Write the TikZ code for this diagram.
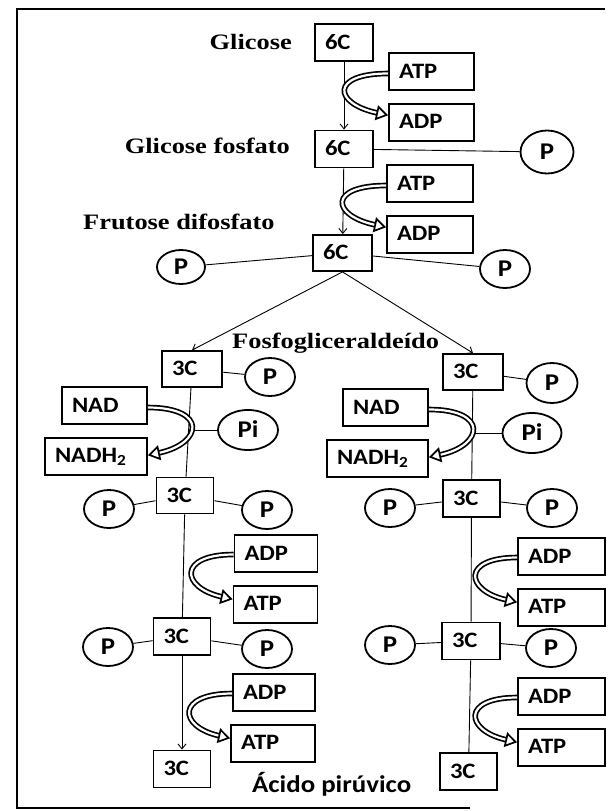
\documentclass[tikz,border=0pt]{standalone}
\usepackage{fontspec}
\usepackage{tikz}
\usetikzlibrary{arrows.meta,positioning,shapes.geometric}
\newfontfamily\boxfont{Carlito}[FakeStretch=1.12]
\newfontfamily\labfont{Liberation Serif}[FakeStretch=1.2]

\begin{document}
\begin{tikzpicture}[
    x=1pt, y=-1pt,
    node distance=12pt,
    box/.style={draw, line width=1.8pt, minimum height=37pt, inner xsep=10pt,
                inner ysep=0pt, text width=#1, text height=14pt, text depth=1pt,
                align=left, font=\boxfont\bfseries\fontsize{22}{24}\selectfont},
    pcirc/.style={draw, ellipse, line width=1.8pt, minimum width=50pt,
                  minimum height=38pt, inner sep=0pt, text height=15pt, text depth=0pt,
                  font=\boxfont\bfseries\fontsize{24}{26}\selectfont},
    lab/.style={inner sep=0pt, font=\labfont\bfseries\fontsize{22}{24}\selectfont},
    link/.style={line width=0.9pt},
    arrow/.style={link, -{Straight Barb[length=5pt, width=8pt]}},
    hollow/.style={double=white, line width=1.7pt, double distance=2.2pt,
                   -{Triangle[open, length=12pt, width=15pt]}},
]
\useasboundingbox (0,0) rectangle (611,811);

% Frame
\draw[line width=2.5pt] (605,9) -- (17,9) -- (17,808) -- (470,808);

% Glycolysis, 6C part
\node[box=38pt] (c6a) at (344,42.5) {6C};
\node[box=38pt] (c6b) at (344,149) {6C};
\node[box=39pt, minimum height=36pt] (c6c) at (342.5,253) {6C};
\node[box=65pt] (atpa) at (431.5,71.5) {ATP};
\node[box=65pt, below=of atpa] (adpa) {ADP};
\node[box=66pt] (atpb) at (430,183.5) {ATP};
\node[box=66pt, below=of atpb] (adpb) {ADP};
\node[pcirc, minimum width=53pt, minimum height=43pt] (pa) at (547,152) {P};
\node[pcirc, minimum width=48pt, minimum height=34pt] (pb) at (181,267) {P};
\node[pcirc] (pc) at (505,269) {P};

\node[lab, anchor=base east] (lglic) at (292,49) {Glicose};
\node[lab, anchor=base east] (lglicf) at (290,153) {Glicose fosfato};
\node[lab, anchor=base west] (lfrut) at (83,229) {Frutose difosfato};
\node[lab, anchor=base west] (lfosf) at (232,348) {Fosfogliceralde\'ido};
\node[inner sep=0pt, anchor=base west,
      font=\boxfont\bfseries\fontsize{24}{26}\selectfont] (lacid) at (252,792)
     {\'Acido pir\'uvico};

\draw[arrow] (c6a) -- (c6b);
\draw[arrow] (c6b) -- (c6c);
\draw[link] (c6b) -- (pa);
\draw[link] (c6c) -- (pb);
\draw[link] (c6c) -- (pc);
\draw[hollow] ([yshift=-2pt]atpa.west) .. controls +(-58,0) and +(-55,-12) .. ([yshift=7pt]adpa.west);
\draw[hollow] ([yshift=-2pt]atpb.west) .. controls +(-58,0) and +(-55,-12) .. ([yshift=7pt]adpb.west);

% Left branch
\node[box=40pt, minimum height=36pt] (c3la) at (192,369) {3C};
\node[pcirc] (pla) at (270,377) {P};
\node[box=65pt] (nadl) at (104.5,405.5) {NAD};
\node[box=82pt, below=of nadl.south east, anchor=north east] (nadhl) {NADH\textsubscript{2}};
\node[pcirc, minimum width=60pt, minimum height=40pt] (pil) at (248,430) {Pi};
\node[box=37pt, minimum height=36pt] (c3lb) at (185,495.5) {3C};
\node[pcirc] (plb1) at (109,509) {P};
\node[pcirc] (plb2) at (267,510) {P};
\node[box=63pt] (adpl1) at (276,553.5) {ADP};
\node[box=64pt, below=of adpl1.south east, anchor=north east] (atpl1) {ATP};
\node[box=37pt] (c3lc) at (182,636.5) {3C};
\node[pcirc] (plc1) at (108,647) {P};
\node[pcirc] (plc2) at (267,649) {P};
\node[box=62pt] (adpl2) at (274,692.5) {ADP};
\node[box=64pt, below=of adpl2.south east, anchor=north east] (atpl2) {ATP};
\node[box=37pt] (c3ld) at (182,769) {3C};
\coordinate (jl) at (pil -| c3la);

\draw[arrow] (c6c.south) -- (c3la.north);
\draw[link] (c3la) -- (pla);
\draw[link] (c3la) -- (c3lb);
\draw[link] (jl) -- (pil);
\draw[link] (c3lb) -- (plb1);
\draw[link] (c3lb) -- (plb2);
\draw[link] (c3lb) -- (c3lc);
\draw[link] (c3lc) -- (plc1);
\draw[link] (c3lc) -- (plc2);
\draw[arrow] (c3lc) -- (c3ld);
\draw[hollow] ([yshift=-2pt]nadl.east) .. controls +(60,0) and +(55,-12) .. ([yshift=1pt]nadhl.east);
\draw[hollow] ([yshift=-1pt]adpl1.west) .. controls +(-56,0) and +(-52,-12) .. ([yshift=5pt]atpl1.west);
\draw[hollow] ([yshift=-1pt]adpl2.west) .. controls +(-56,0) and +(-52,-12) .. ([yshift=5pt]atpl2.west);

% Right branch
\node[box=40pt, minimum height=36pt] (c3ra) at (473,372) {3C};
\node[pcirc, minimum width=51pt, minimum height=40pt] (pra) at (552,383) {P};
\node[box=65pt] (nadr) at (385.5,407.5) {NAD};
\node[box=81pt, below=of nadr.south east, anchor=north east] (nadhr) {NADH\textsubscript{2}};
\node[pcirc, minimum width=59pt, minimum height=40pt] (pir) at (532,433) {Pi};
\node[box=37pt] (c3rb) at (471.5,498.5) {3C};
\node[pcirc] (prb1) at (390,508) {P};
\node[pcirc] (prb2) at (552,508) {P};
\node[box=67pt] (adpr1) at (561.5,556.5) {ADP};
\node[box=67pt, below=of adpr1] (atpr1) {ATP};
\node[box=38pt] (c3rc) at (471,641) {3C};
\node[pcirc] (prc1) at (390,645) {P};
\node[pcirc] (prc2) at (551,648) {P};
\node[box=67pt] (adpr2) at (561.5,696.5) {ADP};
\node[box=67pt, below=of adpr2] (atpr2) {ATP};
\node[box=37pt] (c3rd) at (468.5,771.5) {3C};
\coordinate (jr) at (pir -| c3ra);

\draw[arrow] (c6c.south) -- (c3ra.north);
\draw[link] (c3ra) -- (pra);
\draw[link] (c3ra) -- (c3rb);
\draw[link] (jr) -- (pir);
\draw[link] (c3rb) -- (prb1);
\draw[link] (c3rb) -- (prb2);
\draw[link] (c3rb) -- (c3rc);
\draw[link] (c3rc) -- (prc1);
\draw[link] (c3rc) -- (prc2);
\draw[link] (c3rc) -- (c3rd);
\draw[hollow] ([yshift=-2pt]nadr.east) .. controls +(60,0) and +(55,-12) .. ([yshift=1pt]nadhr.east);
\draw[hollow] ([yshift=-1pt]adpr1.west) .. controls +(-56,0) and +(-52,-12) .. ([yshift=5pt]atpr1.west);
\draw[hollow] ([yshift=-1pt]adpr2.west) .. controls +(-56,0) and +(-52,-12) .. ([yshift=5pt]atpr2.west);
\end{tikzpicture}
\end{document}
